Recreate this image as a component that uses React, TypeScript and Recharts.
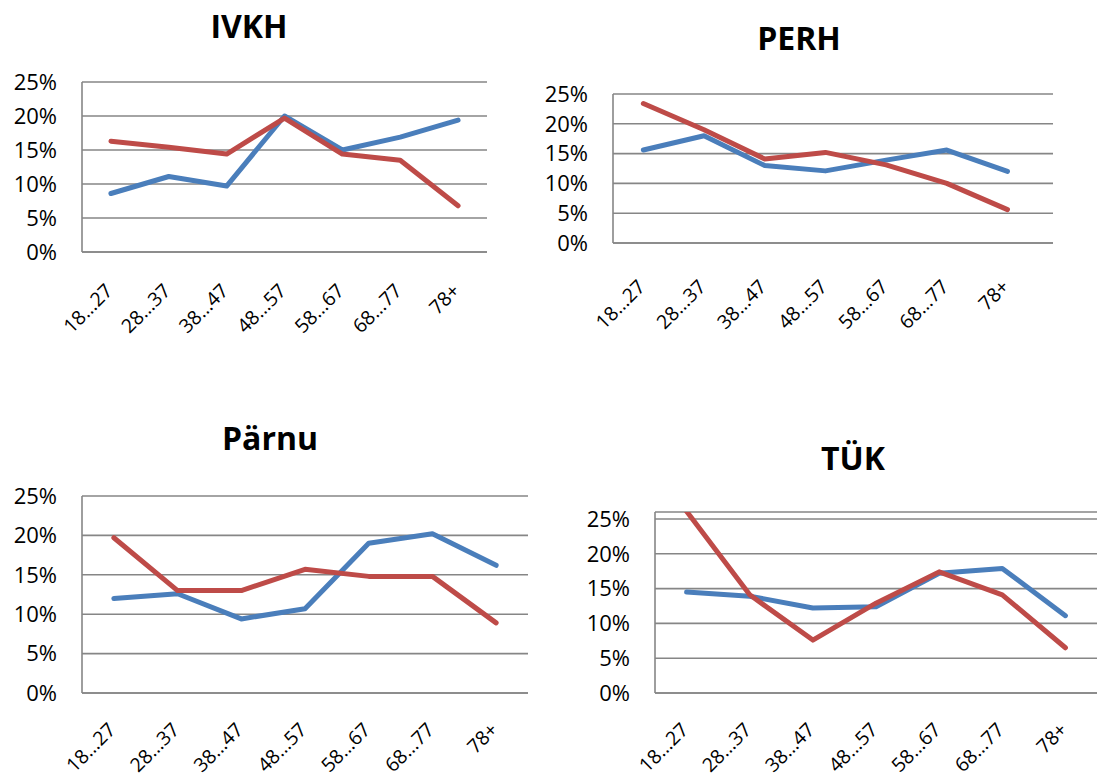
import React from "react";
import { LineChart, Line, XAxis, YAxis, CartesianGrid } from "recharts";

// age groups on the x axis
const CATEGORIES = ["18…27", "28…37", "38…47", "48…57", "58…67", "68…77", "78+"];
const Y_TICKS = [0, 5, 10, 15, 20, 25];

// values in %
const IVKH_BLUE = [8.6, 11.1, 9.7, 20.0, 15.0, 16.9, 19.4];
const IVKH_RED = [16.3, 15.4, 14.4, 19.7, 14.4, 13.5, 6.8];
const PERH_BLUE = [15.6, 18.0, 13.0, 12.1, 13.9, 15.6, 12.0];
const PERH_RED = [23.4, 19.0, 14.1, 15.2, 13.1, 10.0, 5.6];
const PARNU_BLUE = [12.0, 12.6, 9.4, 10.7, 19.0, 20.2, 16.2];
const PARNU_RED = [19.7, 13.0, 13.0, 15.7, 14.8, 14.8, 8.9];
const TUK_BLUE = [14.5, 13.9, 12.2, 12.4, 17.2, 17.9, 11.1];
const TUK_RED = [26.1, 14.1, 7.6, 12.9, 17.4, 14.1, 6.5];

const BLUE = "#4A7EBB";
const RED = "#BE4B48";
const GRID = "#868686";
const FONT = "'Open Sans', sans-serif";

const Y_AXIS_W = 82;
const TOP_PAD = 24;
const RIGHT_PAD = 4;

interface PanelProps {
  title: string;
  blue: number[];
  red: number[];
  plot: { x: number; y: number; w: number; h: number };
  yMax: number;
  xMax: number;
  labelDy: number;
  axisH: number;
  titleX: number;
  titleY: number;
}

const Panel: React.FC<PanelProps> = ({ blue, red, plot, yMax, xMax, labelDy, axisH }) => {
  const data = CATEGORIES.map((label, i) => ({
    i,
    label,
    seriesA: blue[i],
    seriesB: red[i],
  }));

  const XTick = (props: any) => {
    const { x, y, payload } = props;
    return (
      <text
        transform={`translate(${x + 3},${y + labelDy}) rotate(-45)`}
        textAnchor="end"
        fontSize={19.5}
        fontFamily={FONT}
        fill="#000"
      >
        {CATEGORIES[payload.value]}
      </text>
    );
  };

  return (
    <div
      style={{
        position: "absolute",
        left: plot.x - Y_AXIS_W,
        top: plot.y - TOP_PAD,
      }}
    >
      <LineChart
        width={plot.w + Y_AXIS_W + RIGHT_PAD}
        height={plot.h + TOP_PAD + axisH}
        data={data}
        margin={{ top: TOP_PAD, right: RIGHT_PAD, bottom: 0, left: 0 }}
      >
        <CartesianGrid vertical={false} stroke={GRID} strokeWidth={1.6} />
        <XAxis
          type="number"
          dataKey="i"
          domain={[-0.5, xMax]}
          ticks={[0, 1, 2, 3, 4, 5, 6]}
          interval={0}
          height={axisH}
          tick={<XTick />}
          tickLine={false}
          tickSize={0}
          tickMargin={0}
          axisLine={{ stroke: GRID, strokeWidth: 1.6 }}
          allowDataOverflow
        />
        <YAxis
          type="number"
          domain={[0, yMax]}
          ticks={Y_TICKS}
          interval={0}
          width={Y_AXIS_W}
          tickFormatter={(v: number) => `${v}%`}
          tick={{ fontSize: 22, fontFamily: FONT, fill: "#000" }}
          tickLine={false}
          tickSize={0}
          tickMargin={25}
          axisLine={{ stroke: GRID, strokeWidth: 1.6 }}
          allowDataOverflow
        />
        <Line
          type="linear"
          dataKey="seriesA"
          stroke={BLUE}
          strokeWidth={5}
          strokeLinecap="round"
          strokeLinejoin="round"
          dot={false}
          activeDot={false}
          isAnimationActive={false}
        />
        <Line
          type="linear"
          dataKey="seriesB"
          stroke={RED}
          strokeWidth={5}
          strokeLinecap="round"
          strokeLinejoin="round"
          dot={false}
          activeDot={false}
          isAnimationActive={false}
        />
      </LineChart>
    </div>
  );
};

const PANELS: PanelProps[] = [
  {
    title: "IVKH",
    blue: IVKH_BLUE,
    red: IVKH_RED,
    plot: { x: 82, y: 82, w: 405, h: 170 },
    yMax: 25,
    xMax: 6.5,
    labelDy: 40,
    axisH: 100,
    titleX: 249,
    titleY: 38,
  },
  {
    title: "PERH",
    blue: PERH_BLUE,
    red: PERH_RED,
    plot: { x: 613, y: 94, w: 440, h: 149 },
    yMax: 25,
    xMax: 6.75,
    labelDy: 45,
    axisH: 100,
    titleX: 799,
    titleY: 50,
  },
  {
    title: "Pärnu",
    blue: PARNU_BLUE,
    red: PARNU_RED,
    plot: { x: 82, y: 496, w: 446, h: 197 },
    yMax: 25,
    xMax: 6.5,
    labelDy: 38,
    axisH: 86,
    titleX: 270,
    titleY: 450,
  },
  {
    title: "TÜK",
    blue: TUK_BLUE,
    red: TUK_RED,
    plot: { x: 655, y: 512, w: 442, h: 181 },
    yMax: 26,
    xMax: 6.5,
    labelDy: 38,
    axisH: 86,
    titleX: 853,
    titleY: 470,
  },
];

export default function App() {
  return (
    <div
      style={{
        position: "absolute",
        left: 0,
        top: 0,
        width: 1102,
        height: 780,
        background: "#fff",
        overflow: "hidden",
      }}
    >
      {PANELS.map((p) => (
        <Panel key={p.title} {...p} />
      ))}
      <svg
        width={1102}
        height={780}
        style={{ position: "absolute", left: 0, top: 0, pointerEvents: "none" }}
      >
        {PANELS.map((p) => (
          <text
            key={p.title}
            x={p.titleX}
            y={p.titleY}
            textAnchor="middle"
            fontFamily={FONT}
            fontWeight="bold"
            fontSize={32}
            fill="#000"
          >
            {p.title}
          </text>
        ))}
      </svg>
    </div>
  );
}
